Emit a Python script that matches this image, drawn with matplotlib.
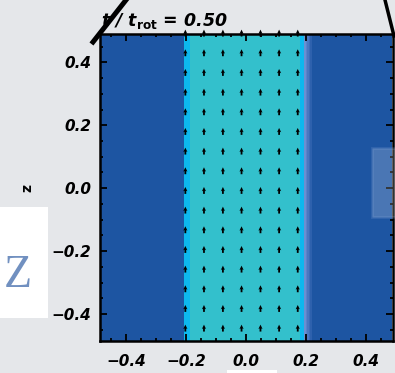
import numpy as np
import matplotlib.pyplot as plt
from matplotlib.colors import ListedColormap
from matplotlib.patches import Rectangle
from matplotlib.lines import Line2D

# colour profile across x (same for every z)
col_edges = [-0.487, -0.205, -0.186, 0.181, 0.194, 0.199, 0.204, 0.209, 0.214, 0.22, 0.487]
col_colors = ['#1d55a2', '#0db8ee', '#33c0cc', '#0db8ee', '#6a90d2',
              '#5a84ca', '#4a78c1', '#3c6cb8', '#2e61ad', '#1d55a2']
z_edges = [-0.487, 0.49]

# velocity arrows (all pointing up, +z)
arrow_x = [-0.202, -0.140, -0.077, -0.015, 0.048, 0.110, 0.172]
arrow_z = [-0.4445 + 0.0625 * k for k in range(16)]
arrow_len = 0.022

xticks = [-0.4, -0.2, 0.0, 0.2, 0.4]
yticks = [-0.4, -0.2, 0.0, 0.2, 0.4]
time_label = '0.50'

bg = '#e5e7ea'
fig = plt.figure(figsize=(3.95, 3.73), dpi=100, facecolor=bg)
ax = fig.add_axes([0.2524, 0.0845, 0.7433, 0.8243])

idx = np.arange(len(col_colors))[None, :]
ax.pcolormesh(col_edges, z_edges, idx, cmap=ListedColormap(col_colors),
              vmin=-0.5, vmax=len(col_colors) - 0.5, shading='flat')

X, Z = np.meshgrid(arrow_x, arrow_z)
ax.quiver(X, Z, np.zeros_like(X), np.full_like(Z, arrow_len),
          angles='xy', scale_units='xy', scale=1, pivot='middle',
          units='dots', width=1.8, headwidth=2.3, headlength=2.4,
          headaxislength=2.1, color='black', clip_on=False, zorder=3)

ax.set_xlim(-0.487, 0.49)
ax.set_ylim(-0.487, 0.49)
ax.set_xticks(xticks)
ax.set_yticks(yticks)
ax.set_xticks(np.arange(-0.45, 0.5, 0.05), minor=True)
ax.set_yticks(np.arange(-0.45, 0.5, 0.05), minor=True)
fmt = lambda v: ('%.1f' % v).replace('-', '\u2212')
ax.set_xticklabels([fmt(v) for v in xticks])
ax.set_yticklabels([fmt(v) for v in yticks])
ax.tick_params(which='both', direction='in', top=True, right=True, width=1.3,
               labelsize=11)
ax.tick_params(which='major', length=5)
ax.tick_params(which='minor', length=2.5)
ax.tick_params(axis='x', pad=9)
ax.tick_params(axis='y', pad=6)
for lab in ax.get_xticklabels() + ax.get_yticklabels():
    lab.set_fontstyle('italic')
    lab.set_fontweight('bold')
for s in ax.spines.values():
    s.set_linewidth(1.8)

fig.text(101 / 395, 1 - 26 / 373, r't / t$_{\bf rot}$ = ' + time_label,
         fontsize=12.5, fontstyle='italic', fontweight='bold', va='baseline')
fig.text(27 / 395, 1 - 188 / 373, 'z', rotation=90, fontsize=10,
         fontweight='bold', ha='center', va='center')

# slide overlays
fig.patches.append(Rectangle((0, 1 - 318 / 373), 48 / 395, 111 / 373,
                             transform=fig.transFigure, facecolor='white',
                             edgecolor='none', zorder=5))
fig.text(18 / 395, 1 - 276 / 373, 'Z', family='Liberation Serif', fontsize=33,
         color='#7190c0', ha='center', va='center', zorder=6)
fig.patches.append(Rectangle((372 / 395, 1 - 217 / 373), 30 / 395, 69 / 373,
                             transform=fig.transFigure, facecolor='white',
                             alpha=0.2, edgecolor='#8aa8dc', linewidth=2,
                             zorder=5))
fig.patches.append(Rectangle((227 / 395, 0), 50 / 395, 3 / 373,
                             transform=fig.transFigure, facecolor='white',
                             edgecolor='none', zorder=5))
fig.lines.append(Line2D([93 / 395, 126 / 395], [1 - 42 / 373, 1.0],
                        transform=fig.transFigure, color='black',
                        linewidth=3.6, zorder=6))
fig.lines.append(Line2D([385 / 395, 394 / 395], [1.0, 1 - 36 / 373],
                        transform=fig.transFigure, color='black',
                        linewidth=2.5, zorder=6))

fig.savefig('out.png', dpi=100, facecolor=bg)
